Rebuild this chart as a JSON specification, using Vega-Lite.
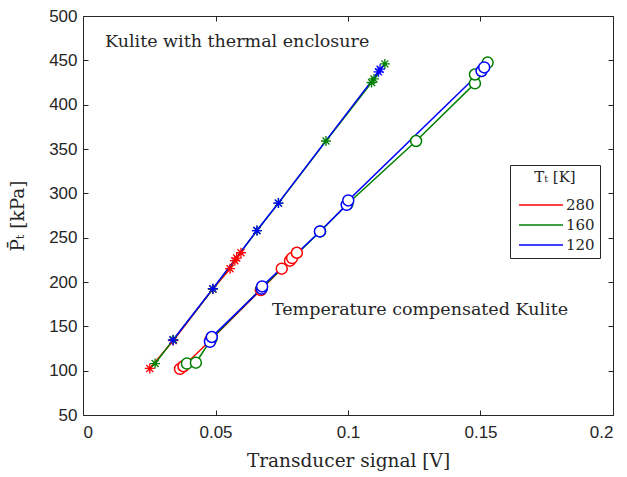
{
  "$schema": "https://vega.github.io/schema/vega-lite/v6.json",
  "autosize": {"type": "none"},
  "padding": {"left": 83, "top": 16, "right": 14, "bottom": 62},
  "width": 530,
  "height": 399,
  "background": "white",
  "config": {
    "view": {"stroke": "#262626", "strokeWidth": 1},
    "axis": {"grid": false, "domainColor": "#262626", "tickColor": "#262626", "labelColor": "#262626", "titleColor": "#262626", "labelFont": "Liberation Sans", "labelFontSize": 17, "titleFont": "DejaVu Serif", "titleFontSize": 18.5, "titleFontWeight": "normal", "tickSize": -5}
  },
  "data": {"values": [
    {"s": "enc", "T": "280", "V": 0.0252, "P": 102.5},
    {"s": "enc", "T": "280", "V": 0.0341, "P": 134},
    {"s": "enc", "T": "280", "V": 0.049, "P": 192},
    {"s": "enc", "T": "280", "V": 0.0555, "P": 215},
    {"s": "enc", "T": "280", "V": 0.0573, "P": 224},
    {"s": "enc", "T": "280", "V": 0.058, "P": 227},
    {"s": "enc", "T": "280", "V": 0.0596, "P": 233},
    {"s": "comp", "T": "280", "V": 0.0366, "P": 102},
    {"s": "comp", "T": "280", "V": 0.0379, "P": 105},
    {"s": "comp", "T": "280", "V": 0.048, "P": 134},
    {"s": "comp", "T": "280", "V": 0.0671, "P": 191},
    {"s": "comp", "T": "280", "V": 0.075, "P": 215},
    {"s": "comp", "T": "280", "V": 0.0781, "P": 224},
    {"s": "comp", "T": "280", "V": 0.0789, "P": 227},
    {"s": "comp", "T": "280", "V": 0.0807, "P": 233},
    {"s": "enc", "T": "160", "V": 0.0272, "P": 108},
    {"s": "enc", "T": "160", "V": 0.0341, "P": 135},
    {"s": "enc", "T": "160", "V": 0.049, "P": 192},
    {"s": "enc", "T": "160", "V": 0.0657, "P": 258},
    {"s": "enc", "T": "160", "V": 0.0738, "P": 289},
    {"s": "enc", "T": "160", "V": 0.0917, "P": 359},
    {"s": "enc", "T": "160", "V": 0.1089, "P": 425},
    {"s": "enc", "T": "160", "V": 0.1098, "P": 429},
    {"s": "enc", "T": "160", "V": 0.1139, "P": 446},
    {"s": "comp", "T": "160", "V": 0.0392, "P": 108},
    {"s": "comp", "T": "160", "V": 0.0426, "P": 109},
    {"s": "comp", "T": "160", "V": 0.0485, "P": 136},
    {"s": "comp", "T": "160", "V": 0.0674, "P": 193},
    {"s": "comp", "T": "160", "V": 0.0895, "P": 257},
    {"s": "comp", "T": "160", "V": 0.0998, "P": 288},
    {"s": "comp", "T": "160", "V": 0.1257, "P": 359},
    {"s": "comp", "T": "160", "V": 0.1479, "P": 424},
    {"s": "comp", "T": "160", "V": 0.1479, "P": 434},
    {"s": "comp", "T": "160", "V": 0.1527, "P": 447.5},
    {"s": "enc", "T": "120", "V": 0.0339, "P": 134.4},
    {"s": "enc", "T": "120", "V": 0.049, "P": 192.5},
    {"s": "enc", "T": "120", "V": 0.0656, "P": 258},
    {"s": "enc", "T": "120", "V": 0.0737, "P": 289},
    {"s": "enc", "T": "120", "V": 0.1115, "P": 437},
    {"s": "enc", "T": "120", "V": 0.1121, "P": 440},
    {"s": "comp", "T": "120", "V": 0.0479, "P": 132.5},
    {"s": "comp", "T": "120", "V": 0.0486, "P": 138},
    {"s": "comp", "T": "120", "V": 0.0674, "P": 192.5},
    {"s": "comp", "T": "120", "V": 0.0676, "P": 195},
    {"s": "comp", "T": "120", "V": 0.0894, "P": 257},
    {"s": "comp", "T": "120", "V": 0.0995, "P": 287},
    {"s": "comp", "T": "120", "V": 0.1001, "P": 292},
    {"s": "comp", "T": "120", "V": 0.1504, "P": 438},
    {"s": "comp", "T": "120", "V": 0.1514, "P": 442}
  ]},
  "resolve": {"axis": {"x": "independent", "y": "independent"}},
  "layer": [
    {
      "mark": {"type": "line", "strokeWidth": 1.5},
      "encoding": {
        "x": {"field": "V", "type": "quantitative", "scale": {"domain": [0, 0.2], "nice": false}, "axis": {"title": "Transducer signal [V]", "values": [0, 0.05, 0.1, 0.15, 0.2], "format": "~g", "labelPadding": 14, "titlePadding": 11, "domain": false}},
        "y": {"field": "P", "type": "quantitative", "scale": {"domain": [50, 500], "nice": false, "zero": false}, "axis": {"title": "P̄ₜ [kPa]", "values": [50, 100, 150, 200, 250, 300, 350, 400, 450, 500], "labelPadding": 11, "titlePadding": 21, "domain": false}},
        "color": {"field": "T", "type": "nominal", "scale": {"domain": ["280", "160", "120"], "range": ["#ff0000", "#008000", "#0000ff"]},
          "legend": {"title": "Tₜ [K]", "orient": "none", "legendX": 427, "legendY": 149, "symbolType": "M-2,0L2,0", "symbolSize": 484, "symbolStrokeWidth": 1.5, "symbolOffset": 14, "labelOffset": 13, "labelFont": "DejaVu Serif", "labelFontSize": 15, "labelColor": "#262626", "titleFont": "DejaVu Serif", "titleFontSize": 15, "titleFontWeight": "normal", "titleColor": "#262626", "strokeColor": "#262626", "fillColor": "white", "padding": 5, "rowPadding": 0, "titlePadding": 8, "titleAnchor": "middle"}},
        "detail": {"field": "s"},
        "order": {"field": "P", "type": "quantitative"}
      }
    },
    {
      "transform": [{"filter": "datum.s == 'enc'"}],
      "mark": {"type": "point", "shape": "M-1,0L1,0M0,-1L0,1M-0.7,-0.7L0.7,0.7M-0.7,0.7L0.7,-0.7", "filled": false, "size": 100, "strokeWidth": 1.3, "opacity": 1},
      "encoding": {
        "x": {"field": "V", "type": "quantitative", "axis": null},
        "y": {"field": "P", "type": "quantitative", "axis": null},
        "color": {"field": "T", "type": "nominal"}
      }
    },
    {
      "transform": [{"filter": "datum.s == 'comp'"}],
      "mark": {"type": "point", "shape": "circle", "filled": false, "fill": "white", "fillOpacity": 1, "size": 120, "strokeWidth": 1.5, "opacity": 1},
      "encoding": {
        "x": {"field": "V", "type": "quantitative", "axis": null},
        "y": {"field": "P", "type": "quantitative", "axis": null},
        "color": {"field": "T", "type": "nominal"}
      }
    },
    {
      "data": {"values": [
        {"V": 0.0083, "P": 470.7, "label": "Kulite with thermal enclosure"},
        {"V": 0.0713, "P": 168.4, "label": "Temperature compensated Kulite"}
      ]},
      "mark": {"type": "text", "align": "left", "baseline": "middle", "font": "DejaVu Serif", "fontSize": 17.5, "color": "#262626"},
      "encoding": {
        "x": {"field": "V", "type": "quantitative", "axis": {"orient": "top", "title": null, "labels": false, "domain": false, "values": [0, 0.05, 0.1, 0.15, 0.2]}},
        "y": {"field": "P", "type": "quantitative", "axis": {"orient": "right", "title": null, "labels": false, "domain": false, "values": [50, 100, 150, 200, 250, 300, 350, 400, 450, 500]}},
        "text": {"field": "label"}
      }
    }
  ]
}
